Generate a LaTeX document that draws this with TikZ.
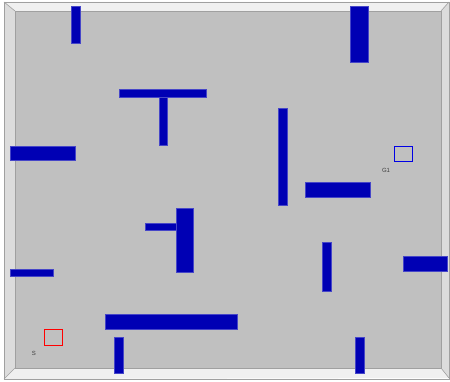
\documentclass[tikz,border=0pt]{standalone}
\usepackage{fontspec}
\setmainfont{Liberation Sans}
\definecolor{wallblue}{RGB}{0,0,180}
\definecolor{walledge}{RGB}{70,70,200}
\definecolor{floorgray}{RGB}{192,192,192}
\definecolor{bandlight}{RGB}{240,240,240}
\definecolor{bandside}{RGB}{220,220,220}
\definecolor{edgegray}{RGB}{160,160,160}
\tikzset{
  wall/.style={fill=wallblue, draw=walledge, line width=0.4pt},
  target/.style={draw, line width=0.9pt, fill=none},
  lbl/.style={font=\fontsize{6}{7}\selectfont, text=black!75, inner sep=0pt}
}
\begin{document}
\begin{tikzpicture}[x=1pt,y=-1pt]
\useasboundingbox (0,0) rectangle (450,382);
\fill[white] (0,0) rectangle (450,382);
% frame bands
\fill[bandlight] (4,2) -- (449,2) -- (441,11) -- (15,11) -- cycle;
\fill[bandside] (4,2) -- (15,11) -- (15,368) -- (4,379) -- cycle;
\fill[bandside] (449,2) -- (441,11) -- (441,368) -- (449,378) -- cycle;
\fill[bandlight] (4,379) -- (15,368) -- (441,368) -- (449,378) -- cycle;
\fill[floorgray] (15,11) rectangle (441,368);
\draw[edgegray, line width=0.6pt] (4,2) -- (15,11) (449,2) -- (441,11) (4,379) -- (15,368) (449,378) -- (441,368);
\draw[edgegray, line width=0.6pt] (15,11) rectangle (441,368);
\draw[edgegray, line width=0.6pt] (4,2) rectangle (449,379);
% walls
\node[wall, inner sep=0pt, minimum width=9pt, minimum height=37pt] (w1) at (75.5,24.5) {};
\node[wall, inner sep=0pt, minimum width=87pt, minimum height=8pt] (w2) at (162.5,93) {};
\node[wall, inner sep=0pt, minimum width=8pt, minimum height=48pt] (w3) at (163,121) {};
\node[wall, inner sep=0pt, minimum width=18pt, minimum height=56pt] (w4) at (359,34) {};
\node[wall, inner sep=0pt, minimum width=65pt, minimum height=14pt] (w5) at (42.5,153) {};
\node[wall, inner sep=0pt, minimum width=9pt, minimum height=97pt] (w6) at (282.5,156.5) {};
\node[wall, inner sep=0pt, minimum width=65pt, minimum height=15pt] (w7) at (337.5,189.5) {};
\node[wall, inner sep=0pt, minimum width=31pt, minimum height=7pt] (w8) at (160.5,226.5) {};
\node[wall, inner sep=0pt, minimum width=17pt, minimum height=64pt] (w9) at (184.5,240.5) {};
\node[wall, inner sep=0pt, minimum width=9pt, minimum height=49pt] (w10) at (326.5,266.5) {};
\node[wall, inner sep=0pt, minimum width=44pt, minimum height=15pt] (w11) at (425,263.5) {};
\node[wall, inner sep=0pt, minimum width=43pt, minimum height=7pt] (w12) at (31.5,272.5) {};
\node[wall, inner sep=0pt, minimum width=132pt, minimum height=15pt] (w13) at (171,322) {};
\node[wall, inner sep=0pt, minimum width=9pt, minimum height=36pt] (w14) at (119,355) {};
\node[wall, inner sep=0pt, minimum width=9pt, minimum height=36pt] (w15) at (359.5,355) {};
% targets
\node[target, draw=blue!90!black, inner sep=0pt, minimum width=18pt, minimum height=15pt] (g1) at (403,153.5) {};
\node[lbl] (g1l) at (386,170) {G1};
\node[target, draw=red, inner sep=0pt, minimum width=18pt, minimum height=16pt] (s) at (53,337) {};
\node[lbl] (sl) at (34,353) {S};
\end{tikzpicture}
\end{document}
